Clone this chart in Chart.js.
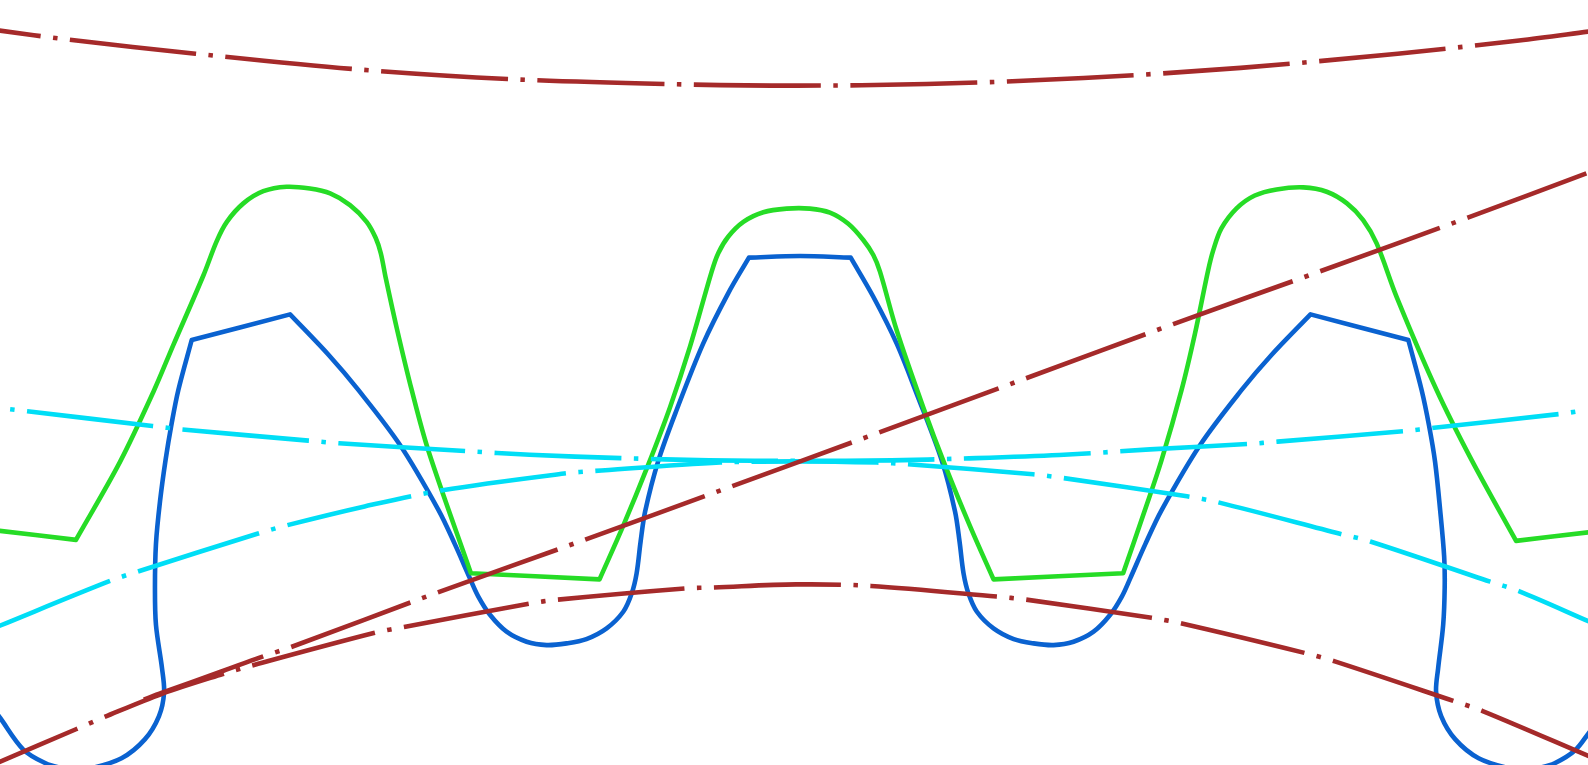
<!DOCTYPE html>
<html>
<head>
<meta charset="utf-8">
<title>Gear mesh</title>
<script src="https://cdn.jsdelivr.net/npm/chart.js@4"></script>
<style>
  html, body { margin: 0; padding: 0; background: #fff; overflow: hidden; }
  canvas { display: block; }
</style>
</head>
<body>
<canvas id="gearChart" width="1588" height="765"></canvas>
<script>
// Curves, as [x, y] in drawing units.
// A repeated point is a sharp corner of the profile.
const topCircle = [[-2,30],[69,39.3],[193,53],[347,68],[501,78],[660,83],[786,84.5],[915,83],[1070,77],[1225,67],[1380,53],[1500,40],[1570,31]];
const bottomCircle = [[-2,753],[75,720],[103,708],[160,685],[220,665.5],[249,657],[369,625],[399,619],[522,596],[551,592],[676,581],[705,580],[786,577],[860,578.5],[984,589],[1013,592],[1137,610],[1167,615.6],[1288,644.6],[1318,653],[1435,692],[1464,702],[1570,747]];
const rollingLine = [[1590,162.5],[1567,171],[1450,214.6],[1304.3,267.6],[1158.5,320],[1013,373.5],[868,427],[723,480],[577,533],[432,585],[287,639],[257,649],[220,662.5],[160,684],[140,691.5]];
const pitchUpper = [[10,404],[27,406],[150.4,420.6],[180,424],[304.4,435],[334.7,437.7],[459,445.3],[523,449],[613,452.3],[700,454.5],[790,455],[880,454.5],[952,452.7],[1046,449.3],[1135.5,443.7],[1232,438.4],[1261.5,436],[1386.6,425.6],[1416,422.3],[1539.6,408.8],[1557,406.2]];
const pitchLower = [[-2,618.5],[106.7,574.3],[136,564.3],[254,527],[283.3,518.6],[360,500],[437,484],[557,467.5],[587,465],[711,456.7],[790,455.5],[866,456.7],[896,458.3],[1020,468.3],[1050,472],[1172,490],[1203,496],[1323,527],[1353,534.6],[1471.4,574.3],[1499.7,583.6],[1570,614]];
const greenProfile = [[-5,523.5],[75,533],[75,533],[118.5,456],[151.4,387],[171,341],[200.8,272],[214,238],[224,219],[240.3,200.8],[260,188.8],[283,184.4],[306,186.2],[326,191],[345.6,202.5],[362,219],[371,235],[376,250],[381,275],[392,325],[406.5,385],[423,445],[465,566],[465,566],[592,572],[592,572],[615,520],[640,459],[661.6,402],[681.3,342.3],[702.7,268.2],[709.2,250],[719,233.7],[734,219],[753.7,209.5],[776.7,206],[799.7,206],[819.5,210],[837.6,221],[852.4,237],[862.3,251.8],[868.9,268.2],[885.3,325.8],[911.6,402],[933,459],[958,520],[981,572],[981,572],[1109,566],[1109,566],[1130,505],[1147,454],[1166.7,385],[1180,329],[1193,266.6],[1198,247],[1206,225.5],[1221,205.7],[1239,193],[1260.5,187],[1287,185],[1310,189.3],[1330,200.8],[1346,217.3],[1359.3,240.3],[1379,293],[1418.5,385],[1453,454],[1497,534],[1497,534],[1573,525]];
const blueProfile = [[-4,703],[0,708.6],[23,740],[45,753.6],[60,758],[72,760],[88,759],[120,748.6],[143,730],[157,707],[162,683.6],[160,660],[154,617],[153,580],[154,537],[158,495],[163.5,454],[169.5,418],[176.1,385],[189.3,335.7],[189.3,335.7],[286.4,310.4],[286.4,310.4],[325,351],[353.8,385],[395,439.4],[433,503.6],[449,537],[464,571],[472.3,589],[483.8,607],[500.2,623.7],[520,633.6],[539.7,636.9],[559.5,635.2],[579,631],[599,620.4],[615.4,604],[623.7,586],[628.6,566],[632.5,535],[637,505],[650,455],[668,405],[694.4,339],[719,289.6],[739.5,254.4],[739.5,254.4],[790,252.8],[840,254.4],[840,254.4],[862.3,293],[885.3,339],[905,388.4],[930,455],[943,505],[947.5,535],[951.4,566],[956.3,586],[964.6,604],[981,620.4],[1001,631],[1020.5,635.2],[1040.3,636.9],[1060,633.6],[1079.8,623.7],[1096.2,607],[1107.7,589],[1116,571],[1131,537],[1147,503.6],[1185,439.4],[1226,385],[1255,351],[1294,310.4],[1294,310.4],[1390.6,335.7],[1390.6,335.7],[1403.7,385],[1411,420],[1417,456],[1422,503.6],[1426,550],[1426.5,580],[1425,617],[1420,660],[1418,683],[1423,707],[1437,730],[1460,748.6],[1492,759],[1508,760],[1520,758],[1535,753.6],[1555,741],[1570,722]];

// Long dash, gap, dot, gap
const centerDash = [127, 12.5, 4.5, 12.5];

function toPoints(curve) {
  return curve.map(([x, y]) => ({ x: x, y: y }));
}

function dashed(curve, color, offset) {
  return {
    data: toPoints(curve),
    borderColor: color,
    borderDash: centerDash,
    borderDashOffset: offset,
  };
}

function solid(curve, color) {
  return { data: toPoints(curve), borderColor: color };
}

document.addEventListener("DOMContentLoaded", () => {
  const ctx = document.getElementById("gearChart").getContext("2d");
  new Chart(ctx, {
    type: "scatter",
    data: {
      // The first dataset is painted last
      datasets: [
        dashed(topCircle, "#a52a2a", 84),
        dashed(bottomCircle, "#a52a2a", 40.5),
        dashed(rollingLine, "#a52a2a", -25.5),
        dashed(pitchUpper, "#00def6", 139.5),
        dashed(pitchLower, "#00def6", 6),
        solid(greenProfile, "#26dc26"),
        solid(blueProfile, "#0a62d0"),
      ],
    },
    options: {
      responsive: false,
      animation: false,
      showLine: true,
      layout: { padding: 0 },
      elements: {
        point: { radius: 0, hitRadius: 0 },
        line: {
          borderWidth: 4.6,
          tension: 0.33,
          capBezierPoints: false,
          borderCapStyle: "butt",
          borderJoinStyle: "round",
          fill: false,
        },
      },
      plugins: {
        legend: { display: false },
        tooltip: { enabled: false },
      },
      scales: {
        x: { type: "linear", display: false, min: 0, max: 1568 },
        y: { type: "linear", display: false, min: 0, max: 755.3, reverse: true },
      },
    },
  });
});
</script>
</body>
</html>
